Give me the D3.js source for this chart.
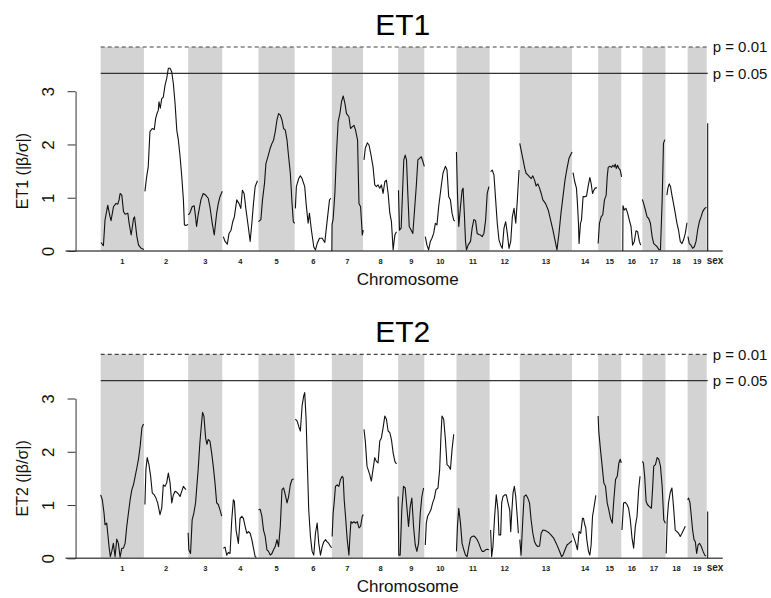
<!DOCTYPE html>
<html>
<head>
<meta charset="utf-8">
<script src="https://cdn.jsdelivr.net/npm/d3@7"></script>
<style>
  body { margin: 0; background: #fff; }
  svg { display: block; font-family: "Liberation Sans", Arial, Helvetica, sans-serif; }
</style>
</head>
<body>
<svg id="chart" width="771" height="598"></svg>
<script>
// chromosome labels and their lengths (map units)
const chromosomes = ["1","2","3","4","5","6","7","8","9","10","11","12","13","14","15","16","17","18","19","sex"];
const chrLengths = [43,44,34,36,36,37,31,35,26,32,33,30,52,26,23,21,23,22,19,2];

const yTicks = [0, 1, 2, 3];
const thresholds = [3.83, 3.335];
const thresholdLabels = ["p = 0.01", "p = 0.05"];

const panelTitles = ["ET1", "ET2"];
const panelYLabels = ["ET1 (|β/σ|)", "ET2 (|β/σ|)"];

// scan per chromosome: [position within chromosome, |beta/sigma|]
const et1Scan = [
  [[0.3,0.16],[2.7,0.1],[4.3,0.58],[7,0.86],[9.3,0.64],[10.3,0.57],[12.7,0.83],[15,0.89],[17,0.88],[18.3,0.96],[19.3,1.08],[21,1.05],[22.7,0.74],[24.3,0.69],[27,0.71],[28.3,0.52],[30.3,0.3],[32.7,0.61],[33.7,0.64],[36,0.27],[37.7,0.11],[40.3,0.05],[43,0.03]],
  [[1,1.12],[2.7,1.39],[4.3,1.58],[6,2.24],[8.3,2.3],[10.3,2.28],[11.7,2.49],[13,2.58],[14.3,2.64],[15,2.8],[16.3,2.68],[17.7,2.86],[19.3,2.89],[21,3.11],[22.7,3.24],[24.3,3.43],[26,3.43],[27.7,3.36],[29.3,3.14],[31,2.77],[32.7,2.27],[34.3,2.08],[36,1.77],[37.7,1.39],[39.3,0.96],[40.3,0.49],[42,0.48],[44,0.5]],
  [[0.2,0.68],[1.7,0.71],[4,0.83],[6,0.85],[7.4,0.64],[8.4,0.46],[10,0.68],[12.7,0.96],[15,1.08],[17.4,1.05],[20,0.99],[21.7,0.83],[24,0.52],[26,0.3],[28.4,0.71],[30,0.89],[31.7,1.02],[34,1.12]],
  [[1,0.27],[2.7,0.18],[5,0.13],[6.7,0.33],[8.7,0.39],[10.4,0.55],[12,0.64],[14.4,0.96],[16.7,0.89],[18.4,0.8],[20,1.14],[21.7,1.08],[23.4,0.8],[25.4,0.52],[27.7,0.18],[29.4,0.52],[31,0.89],[32.7,1.21],[35,1.32]],
  [[0,0.55],[2.4,0.59],[4,0.96],[6,1.27],[7.4,1.64],[9.4,1.77],[11.7,1.93],[13.4,2.02],[15,2.08],[16.7,2.24],[18.4,2.46],[20,2.58],[21.7,2.55],[23.4,2.46],[25,2.3],[26.7,2.27],[28.4,2.08],[30,1.77],[31.7,1.46],[33.4,0.89],[34.7,0.55],[36,0.52]],
  [[0.7,0.8],[1.7,1.21],[4,1.36],[5.7,1.41],[7.4,1.36],[10,1.21],[11.4,0.89],[13.4,0.52],[14.7,0.71],[16.7,0.39],[19,0.08],[20.7,0.02],[22.4,0.14],[24.7,0.24],[27.4,0.24],[30,0.16],[32.4,0.58],[34.7,0.96],[36,0.99]],
  [[0,0],[0.2,0.5],[1.3,0.6],[3,1.08],[4.6,1.83],[6.3,2.43],[8,2.58],[9.6,2.8],[11.3,2.91],[13,2.77],[14.6,2.58],[17,2.52],[18.6,2.3],[20.3,2.33],[22,2.36],[23.6,2.27],[25.6,2.08],[27,0.89],[28.6,0.83],[30.3,0.3],[31.3,0.39]],
  [[1,1.71],[2.3,1.93],[4.3,2.03],[6,1.99],[7.7,1.83],[10,1.58],[11.7,1.24],[13.3,1.21],[15,1.24],[16.7,1.18],[18.3,1.24],[20,1.08],[21.7,1.3],[23.3,1.33],[25,1.08],[26.7,0.71],[28.3,0.55],[30,0.02],[31.7,0.3],[33.3,0.36]],
  [[0.3,1.14],[1.3,0.39],[3,0.43],[4.3,1.08],[5.6,1.71],[7,1.8],[8.3,1.71],[9.6,1.08],[11,0.46],[13,0.39],[14.6,0.33],[16.3,0.77],[18,1.21],[19.6,1.71],[21.3,1.74],[23,1.77],[24.6,1.68],[26,1.59]],
  [[1,0.27],[2.6,0.11],[4.3,0.02],[6,0.18],[7.6,0.24],[9.3,0.33],[11,0.52],[12.6,0.49],[14.3,0.83],[17,1.24],[18.6,1.46],[21,1.59],[22.6,1.52],[24.3,1.02],[26,0.96],[27.6,0.71],[29.3,0.58],[30.3,0.56]],
  [[0,1.86],[1,1.08],[2.3,0.46],[4,0.83],[5.6,1.14],[6.6,1.18],[8,0.64],[9,0.18],[10,0.02],[11.6,0.11],[14,0.18],[15.6,0.43],[17.3,0.59],[19,0.57],[20.6,0.33],[22.3,0.31],[24,0.3],[25.6,0.27],[27.3,0.33],[29,0.58],[30.6,1.08],[32.3,1.21]],
  [[1,1.49],[2.6,1.52],[4.3,1.43],[6,0.96],[7.6,0.52],[9.3,0.21],[11,0.11],[12.6,0.05],[14.3,0.43],[16,0.55],[17.6,0.33],[19.3,0.05],[21,0.18],[22.6,0.64],[24.3,0.8],[26,0.52],[27.6,0.96],[29.3,1.52]],
  [[0,2.02],[1.7,1.86],[3.3,1.71],[5,1.55],[6.3,1.46],[8,1.43],[9.7,1.39],[11.3,1.36],[13,1.41],[14.7,1.33],[16.3,1.22],[18,1.26],[19.7,1.18],[21.3,1.08],[23,0.96],[25.7,0.89],[28.3,0.77],[30.7,0.58],[33,0.39],[35,0.21],[37,0.02],[39,0.33],[41,0.71],[43,1.02],[45,1.33],[47,1.55],[49,1.74],[52,1.86]],
  [[1,1.47],[2.7,1.3],[4.4,1.18],[5.4,0.89],[6.4,0.52],[7,0.14],[8.4,0.52],[9.4,0.58],[11,1.02],[12.7,1.02],[14.4,1.03],[16,1.21],[17.7,1.38],[19,1.27],[20.4,1.08],[21.7,1.14],[23,1.18],[24.7,1.19]],
  [[0,0.14],[1.3,0.52],[3,0.64],[4.6,0.68],[6.3,0.96],[8,1.05],[9,1.39],[10,1.57],[11.6,1.59],[13.3,1.57],[14.6,1.61],[16,1.58],[17,1.63],[18,1.55],[19.3,1.61],[20.6,1.55],[22,1.52],[23.3,1.39]],
  [[1.5,0],[1.7,0.85],[3,0.77],[4.7,0.8],[6.3,0.71],[8,0.58],[9.7,0.46],[11.3,0.11],[13,0.18],[14.7,0.38],[16.3,0.36],[18,0.18],[19.3,0.11]],
  [[0,0.97],[1.3,0.89],[3,0.77],[4.7,0.64],[6.3,0.61],[8,0.52],[9.7,0.27],[11.3,0.14],[13,0.11],[14.7,0.08],[16.3,0.03],[18,0.02],[19.7,0.96],[21,2.02],[22.3,2.09]],
  [[1.4,1.05],[2.4,1.18],[3.7,1.26],[5,1.21],[6.4,1.05],[8,0.89],[9.7,0.71],[11.4,0.52],[13,0.39],[14.7,0.18],[16.4,0.14],[18,0.21],[19.7,0.33],[21.4,0.53]],
  [[0.4,0.27],[1.7,0.14],[3.4,0.11],[5,0.05],[6.7,0.08],[8.4,0.18],[10,0.39],[11.7,0.55],[13.4,0.64],[15,0.74],[17,0.8],[18.7,0.82]],
  [[1,0],[1,2.4]]
];

const et2Scan = [
  [[0,1.19],[1.6,1.1],[3.3,0.85],[4.3,0.63],[6,0.66],[7,0.47],[8.3,0.22],[9.6,0.03],[11,0.13],[12.6,0.28],[14.3,0.03],[16,0.36],[17.6,0.28],[19.3,0.02],[21,0.19],[22.6,0.19],[24.3,0.28],[26,0.61],[27.6,0.85],[29.3,1.1],[31,1.29],[32.6,1.38],[34.3,1.54],[36,1.7],[37.6,1.86],[39.3,2.11],[41,2.45],[42.6,2.52]],
  [[1,1.01],[2,1.67],[3.3,1.89],[5,1.76],[6.7,1.54],[8.3,1.23],[10.3,1.19],[12,1.13],[13.7,1.04],[16,0.82],[17.7,0.94],[19.3,1.38],[21,1.35],[22.7,1.42],[24.3,1.6],[26,1.42],[27.7,1.04],[29.3,1.19],[31,1.26],[32.7,1.24],[34.3,1.21],[36,1.16],[37.7,1.26],[39.3,1.35],[41.7,1.29]],
  [[0,0.48],[0.7,0.16],[2.4,0.09],[4,0.72],[5.7,0.85],[7.4,1.04],[8.4,1.29],[10,1.67],[11.7,2.17],[13.4,2.55],[14.4,2.74],[15.7,2.67],[17.4,2.26],[18.7,2.14],[20,2.23],[21.7,2.2],[23.4,1.98],[25,1.73],[26.7,1.42],[28.4,1.04],[30,1.01],[31.7,0.91],[33.4,0.79]],
  [[1,0.19],[2.7,0.21],[4.4,0.06],[6,0.11],[7.7,0.09],[9.4,0.72],[11,1.1],[12,1.07],[13.7,0.53],[16,0.28],[17.7,0.75],[19.4,0.79],[21,0.75],[22.7,0.6],[24.4,0.47],[26,0.5],[27.7,0.47],[29.4,0.35],[31,0.19],[32.7,0.03],[34,0.02]],
  [[0,0.91],[1.7,0.92],[3.4,0.79],[5,0.53],[6.7,0.41],[8.4,0.16],[10,0.13],[11.7,0.06],[13.4,0.09],[15,0.16],[16.7,0.22],[18.4,0.35],[20,0.22],[21.7,0.6],[23.4,1.29],[25,1.32],[26.7,1.19],[28.4,1.04],[30,1.16],[31.7,1.38],[33.4,1.48],[35,1.49]],
  [[0.7,2.61],[2.4,2.58],[4,2.48],[5.7,2.39],[7.4,2.86],[9,3.05],[10,3.11],[11.4,2.61],[12.7,1.73],[14,0.91],[15.7,0.41],[17.4,0.13],[19,0.06],[20.7,0.47],[22.4,0.66],[24,0.28],[25.7,0.06],[27.4,0.22],[29,0.31],[30.7,0.35],[32.4,0.31],[34,0.28],[35.7,0.22],[37,0.2]],
  [[0.3,0.41],[1.3,0.85],[2.3,1.04],[3.6,1.35],[5.3,1.38],[7,1.35],[8.6,1.48],[10.3,1.54],[11.3,1.51],[12.3,1.1],[13.6,0.79],[15.3,0.35],[17,0.06],[18,0.41],[19,0.69],[20.3,0.66],[22,0.69],[23.6,0.66],[25.3,0.69],[27,0.57],[28.6,0.6],[30.3,0.79],[31.3,0.82]],
  [[1,2.42],[2.3,2.2],[4,1.73],[5,1.67],[6.7,1.57],[8.3,1.45],[10,1.67],[11.7,1.89],[13.3,1.82],[15,1.79],[16.7,2.2],[18.3,2.26],[20,2.45],[21.7,2.67],[23.3,2.61],[25,2.39],[26.7,2.36],[28.3,2.23],[30,1.98],[31.7,1.82],[33.3,1.77]],
  [[0,1.16],[0.6,0.06],[2,0.06],[3.6,0.91],[5.3,1.35],[7,1.32],[8.6,0.97],[10.3,0.6],[12,0.97],[13.6,1.13],[15.3,0.6],[17,0.25],[18.6,0.13],[20.3,0.28],[22,0.85],[23.6,1.16],[25.3,1.32]],
  [[1,0.25],[2,0.66],[3.3,0.79],[5,0.85],[6.6,0.91],[8.3,1.04],[10,1.13],[11.6,1.29],[13.6,1.32],[15.3,1.67],[16.6,2.3],[17.6,2.67],[19.3,2.61],[21,2.23],[22.6,1.76],[24.3,1.73],[26,1.67],[27.6,2.04],[29.3,2.33]],
  [[0,0.13],[1,0.6],[2.3,0.94],[4,0.66],[5.6,0.28],[7.3,0.16],[9,0.06],[10.6,0.03],[12.3,0.22],[14,0.38],[15.6,0.41],[17.3,0.42],[19,0.39],[20.6,0.35],[22.3,0.28],[24,0.19],[25.6,0.13],[27.3,0.13],[29,0.16],[30.6,0.17],[32.3,0.16]],
  [[1,0.53],[2,0.03],[3.3,0.22],[5,0.79],[6.6,1.19],[8.3,0.91],[9.3,0.44],[11,0.44],[12,1.04],[13.3,1.16],[15,1.19],[16.6,1.19],[18.3,1.04],[20,0.91],[21,0.5],[22,0.85],[23.3,1.23],[24.6,1.35],[26,1.16],[27.6,0.75],[28.6,0.47]],
  [[0,0.35],[1.3,0.06],[3,0.72],[4.3,1.16],[6.3,1.19],[8,1.13],[9.7,1.04],[11.3,0.72],[13,0.47],[14.7,0.31],[16.3,0.25],[18,0.22],[19.7,0.23],[21.3,0.47],[23,0.53],[25.7,0.52],[28.3,0.49],[31,0.44],[33.7,0.38],[36.3,0.28],[39,0.16],[41.7,0.03],[43,0.06],[45,0.16],[47,0.25],[49,0.28],[52,0.33]],
  [[0.4,0.47],[2,0.38],[3.7,0.28],[5.4,0.16],[7,0.5],[8.7,0.47],[10.4,0.75],[11.4,0.75],[12.7,0.63],[13.7,0.57],[14.7,0.35],[16.4,0.13],[17.7,0.06],[19,0.25],[20.4,0.79],[22,0.97],[23.7,1.18]],
  [[0,2.67],[0.6,2.39],[2.3,2.04],[4,1.73],[5.6,1.42],[7.3,1.35],[9,1.04],[10.6,0.91],[12.3,0.75],[14,0.66],[15.6,1.1],[17.3,1.48],[19,1.54],[20.6,1.79],[22,1.86],[23,1.79]],
  [[0.7,0.53],[2.3,1.04],[4,1.05],[5.7,1.01],[7.3,0.94],[9,0.72],[10.7,0.38],[12.3,0.19],[14,0.6],[15.7,0.79],[17.3,1.29],[18.7,1.54]],
  [[0,1.82],[1,1.79],[2.3,1.54],[3.7,1.07],[5,1.01],[7,0.97],[9,0.94],[10.3,1.35],[11.3,1.73],[13,1.76],[14.7,1.89],[16.3,1.86],[18,1.73],[19.7,1.35],[21.3,0.72],[23,0.66]],
  [[0.7,0.09],[1.7,0.72],[3,1.04],[4.7,1.23],[6.4,1.32],[8,0.97],[9.7,0.53],[11.4,0.5],[13,0.47],[14.7,0.41],[16.4,0.47],[18,0.53],[19.7,0.6]],
  [[0,1.1],[1,1.13],[2.4,1.04],[3.7,0.79],[5,0.53],[6.4,0.35],[7.7,0.31],[9,0.09],[10.4,0.25],[12,0.28],[13.7,0.22],[15.4,0.13],[17,0.06],[18.4,0.04]],
  [[1,0],[1,0.88]]
];

const svg = d3.select("#chart");
const starts = chrLengths.map((d, i) => d3.sum(chrLengths.slice(0, i)));
const total = d3.sum(chrLengths);

const x = d3.scaleLinear().domain([0, total]).range([100.7, 708.7]);
const xMid = (x(0) + x(total)) / 2;

const panels = [
  { title: panelTitles[0], ylab: panelYLabels[0], scan: et1Scan, base: 251 },
  { title: panelTitles[1], ylab: panelYLabels[1], scan: et2Scan, base: 558.3 }
];

panels.forEach(p => drawPanel(p));

function drawPanel(p) {
  const y = d3.scaleLinear().domain([0, 3]).range([p.base, p.base - 159.8]);
  const g = svg.append("g");

  // shaded odd chromosomes
  g.selectAll("rect.band")
    .data(chromosomes.map((c, i) => ({ c, i })).filter(d => d.i % 2 === 0 && d.c !== "sex"))
    .join("rect")
    .attr("x", d => x(starts[d.i]))
    .attr("width", d => x(starts[d.i] + chrLengths[d.i]) - x(starts[d.i]))
    .attr("y", y(thresholds[0]))
    .attr("height", y(0) - y(thresholds[0]))
    .attr("fill", "#d3d3d3");

  // significance thresholds
  g.selectAll("line.thr")
    .data(thresholds)
    .join("line")
    .attr("x1", x(0)).attr("x2", x(total) - 1)
    .attr("y1", d => y(d)).attr("y2", d => y(d))
    .attr("stroke", (d, i) => i ? "#333" : "#444")
    .attr("stroke-width", 1.2)
    .attr("stroke-dasharray", (d, i) => i ? null : "4,3");

  g.selectAll("text.thr")
    .data(thresholds)
    .join("text")
    .attr("x", x(total) + 4)
    .attr("y", d => y(d) + 5.5)
    .attr("font-size", 15)
    .attr("fill", "#111")
    .text((d, i) => thresholdLabels[i]);

  // x axis line
  g.append("line")
    .attr("x1", x(-35)).attr("x2", x(total + 14))
    .attr("y1", y(0)).attr("y2", y(0))
    .attr("stroke", "#555").attr("stroke-width", 1.4);

  // scan lines
  const line = d3.line().x(d => d[0]).y(d => y(d[1]));
  g.selectAll("path.scan")
    .data(p.scan.map((pts, i) => pts.map(d => [x(starts[i] + d[0]), d[1]])))
    .join("path")
    .attr("d", line)
    .attr("fill", "none")
    .attr("stroke", "#111")
    .attr("stroke-width", 1.1)
    .attr("stroke-linejoin", "round");

  // y axis
  const ya = g.append("g")
    .attr("transform", `translate(${x(-25)},0)`)
    .call(d3.axisLeft(y).tickValues(yTicks).tickSize(8).tickSizeOuter(0).tickFormat(d3.format("d")));
  ya.select(".domain").attr("stroke", "#333");
  ya.selectAll(".tick line").attr("stroke", "#333");
  ya.selectAll(".tick text")
    .attr("transform", "rotate(-90)")
    .attr("x", 0).attr("y", -22).attr("dy", null)
    .attr("text-anchor", "middle")
    .attr("font-size", 17)
    .attr("font-family", "Liberation Sans, Arial, sans-serif")
    .attr("fill", "#111");

  // chromosome labels
  g.selectAll("text.chr")
    .data(chromosomes)
    .join("text")
    .attr("x", (d, i) => d === "sex" ? x(starts[i]) : x(starts[i] + chrLengths[i] / 2))
    .attr("y", y(0) + 12.5)
    .attr("text-anchor", d => d === "sex" ? "start" : "middle")
    .attr("font-size", d => d === "sex" ? 10 : 7.5)
    .attr("font-weight", "bold")
    .attr("fill", "#222")
    .text(d => d);

  g.append("text")
    .attr("x", xMid + 3)
    .attr("y", y(0) + 33.5)
    .attr("text-anchor", "middle")
    .attr("font-size", 17)
    .attr("fill", "#111")
    .text("Chromosome");

  g.append("text")
    .attr("transform", `translate(28,${y(1.5)}) rotate(-90)`)
    .attr("text-anchor", "middle")
    .attr("font-size", 16)
    .attr("fill", "#111")
    .text(p.ylab);

  g.append("text")
    .attr("x", xMid - 2)
    .attr("y", y(thresholds[0]) - 12)
    .attr("text-anchor", "middle")
    .attr("font-size", 30)
    .attr("fill", "#000")
    .text(p.title);
}
</script>
</body>
</html>
